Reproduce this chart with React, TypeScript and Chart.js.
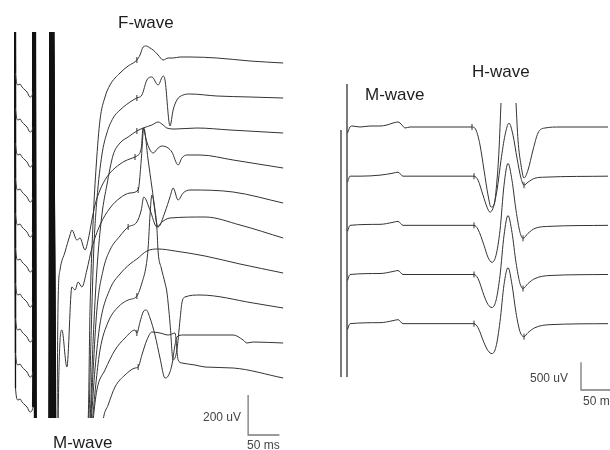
import React, { useEffect, useRef } from "react";
import { Chart, registerables } from "chart.js";

Chart.register(...registerables);

type P = [number, number];

// ---------- Left panel: F-wave recordings (time ms from stimulus, amplitude µV relative to each trace) ----------
const fLead: P[] = [
  [0, 2500], [0.8, -50], [4.8, -110], [8, -105], [11.2, -120], [16, -135], [19.2, -145],
  [24, -170], [28.8, -145], [31.2, 2500], [32.8, -2500], [55.7, -2500], [57.6, 2500],
];
const fTrace1: P[] = [[61.6, -2500], [117, -1785], [120, -1240], [125, -790], [130, -510], [136, -285], [144, -170], [152, -110], [168, -50], [181, -15], [189, 0], [195, 15], [200, 40], [205, 80], [210, 85], [216, 75], [221, 65], [229, 40], [237, 15], [245, 25], [253, 25], [264, 30], [280, 30], [323, 25], [376, 10], [429, 0]];
const fTrace2: P[] = [[62.4, -2500], [118, -1610], [122, -1160], [126, -760], [131, -510], [139, -285], [147, -175], [157, -100], [168, -60], [189, -10], [195, 0], [203, 15], [211, 90], [219, 105], [229, 65], [237, 110], [240, 90], [248, -140], [253, -60], [259, -10], [269, 15], [280, 20], [323, 10], [376, 5], [429, 0]];
const fTrace3: P[] = [[63.2, -2500], [120, -1435], [125, -1035], [131, -685], [139, -410], [147, -260], [157, -110], [168, -50], [181, -20], [195, 10], [205, 25], [219, 40], [229, 55], [237, 40], [243, 25], [256, 20], [291, 25], [344, 15], [429, 0]];
const fTrace4: P[] = [[64, -2500], [69, -660], [72, -510], [80, -420], [88, -335], [91, -310], [99, -360], [104, -350], [112, -410], [117, -360], [123, -260], [128, -185], [136, -110], [147, -45], [160, 0], [176, 35], [192, 55], [195, 60], [202, 100], [205, 200], [210, 140], [216, 90], [221, 75], [229, 100], [235, 110], [245, 100], [251, 80], [261, 15], [267, 50], [275, 65], [296, 65], [349, 40], [429, 0]];
const fTrace5: P[] = [[64.8, -2500], [70, -885], [75, -635], [83, -820], [91, -420], [96, -435], [101, -395], [107, -420], [115, -335], [123, -225], [136, -110], [152, -25], [168, 25], [184, 50], [197, 65], [202, 215], [206, 375], [213, 215], [219, 80], [229, -120], [240, -45], [248, 30], [253, 75], [261, 15], [269, 50], [280, 65], [349, 55], [429, 0]];
const fTrace6: P[] = [[65.6, -2500], [121, -910], [125, -660], [131, -360], [141, -160], [152, -60], [168, 10], [181, 55], [195, 80], [202, 140], [206, 205], [216, 140], [227, 55], [235, 80], [248, 100], [304, 105], [360, 65], [429, 0]];
const fTrace7: P[] = [[66.4, -2500], [122, -730], [128, -480], [136, -255], [152, -80], [168, -5], [184, 45], [195, 70], [211, 110], [229, 120], [256, 110], [304, 85], [360, 45], [429, 0]];
const fTrace8: P[] = [[67.2, -2500], [124, -560], [130, -360], [136, -210], [149, -70], [165, 5], [181, 40], [195, 60], [203, 125], [210, 215], [213, 300], [216, 465], [219, 565], [224, 490], [227, 400], [229, 280], [234, 200], [240, 125], [243, 80], [248, -75], [253, -260], [259, -210], [264, -60], [267, 25], [272, 55], [296, 65], [381, 25], [429, 0]];
const fTrace9: P[] = [[68, -2500], [125, -385], [131, -235], [144, -135], [160, -35], [176, 25], [192, 65], [195, 50], [200, 105], [205, 155], [210, 165], [216, 125], [224, 40], [232, -75], [240, -175], [245, -165], [251, -110], [256, -10], [259, 30], [269, 40], [296, 40], [349, 40], [365, 15], [371, 0], [381, 5], [429, 0]];
const fTrace10: P[] = [[68.8, -2500], [141, -210], [149, -135], [160, -45], [176, 15], [192, 50], [197, 55], [203, 115], [211, 190], [219, 230], [232, 225], [245, 215], [256, 225], [261, 90], [267, 75], [288, 65], [304, 55], [349, 50], [429, 0]];
const fTraces: P[][] = [fTrace1, fTrace2, fTrace3, fTrace4, fTrace5, fTrace6, fTrace7, fTrace8, fTrace9, fTrace10];
const fMarks: number[][] = [[195], [195], [195], [192], [197], [181], [], [195], [195], [197]];
const fSpacing = 175; // µV between stacked sweeps

// ---------- Right panel: H-wave recordings ----------
const hTrace1: P[] = [[0.8, -108], [4.8, 0], [8, 18], [20.8, 0], [36.8, 18], [52.8, 18], [64, 36], [73.6, 72], [81.6, 90], [88, 36], [92.8, -18], [100.8, 0], [148.8, 0], [200, 0], [206.4, -54], [212.8, -324], [219.2, -774], [225.6, -1224], [230.4, -1440], [235.2, -1404], [240, -954], [243.2, -414], [246.4, 432], [249.6, 1206], [258.4, 1926], [267.2, 1206], [270.4, 432], [273.6, -234], [278.4, -684], [283.2, -918], [289.6, -774], [297.6, -414], [305.6, -108], [316.8, -18], [340.8, 0], [417.6, 0]];
const hTrace2: P[] = [[0.8, -108], [4.8, 0], [20.8, 0], [52.8, 18], [73.6, 54], [81.6, 72], [89.6, 0], [100.8, 0], [148.8, 0], [203.2, 0], [209.6, -72], [217.6, -342], [224, -558], [228.8, -648], [233.6, -576], [240, -252], [246.4, 288], [252.8, 738], [259.2, 954], [265.6, 738], [272, 324], [278.4, -36], [283.2, -162], [289.6, -108], [300.8, -36], [316.8, -18], [417.6, 0]];
const hTrace3: P[] = [[0.8, -108], [4.8, 0], [52.8, 18], [73.6, 54], [81.6, 72], [89.6, 0], [203.2, 0], [209.6, -72], [219.2, -360], [225.6, -576], [232, -666], [238.4, -540], [244.8, -90], [251.2, 720], [257.6, 1116], [264, 810], [270.4, 270], [276.8, -126], [281.6, -234], [289.6, -144], [300.8, -54], [324.8, -18], [417.6, 0]];
const hTrace4: P[] = [[0.8, -108], [4.8, 0], [52.8, 18], [73.6, 54], [81.6, 72], [89.6, 0], [203.2, 0], [209.6, -72], [219.2, -378], [225.6, -540], [232, -594], [238.4, -468], [244.8, -18], [251.2, 702], [257.6, 1062], [264, 756], [270.4, 216], [276.8, -162], [281.6, -252], [289.6, -162], [300.8, -72], [324.8, -18], [417.6, 0]];
const hTrace5: P[] = [[0.8, -108], [4.8, 0], [52.8, 18], [73.6, 54], [81.6, 72], [89.6, 0], [203.2, 0], [209.6, -72], [219.2, -342], [225.6, -486], [232, -540], [238.4, -414], [244.8, 36], [251.2, 702], [257.6, 1008], [264, 702], [270.4, 198], [276.8, -144], [283.2, -234], [289.6, -162], [300.8, -72], [324.8, -18], [417.6, 0]];
const hTraces: P[][] = [hTrace1, hTrace2, hTrace3, hTrace4, hTrace5];
const hMarks: number[][] = [[200], [203.2, 283.2], [203.2, 281.6], [203.2, 281.6], [203.2, 283.2]];
const hSpacing = 885;
const hArtifactTimes = [0, -9.6];
const hArtifactTops = [774, -54];
const hArtifactBottom = -4500;

// scale bars
const fBar = { ms: 50, uv: 200 };
const hBar = { ms: 50, uv: 500 };

const TRACE = "#333333";

function isSaturated(ctx: any, area: { top: number; bottom: number }) {
  const dx = Math.abs(ctx.p1.x - ctx.p0.x);
  const dy = Math.abs(ctx.p1.y - ctx.p0.y);
  const outside = (y: number) => y < area.top - 1 || y > area.bottom + 1;
  return dy > 8 * dx && ctx.p0.x < 54 && (outside(ctx.p0.y) || outside(ctx.p1.y));
}

function trace(points: P[], offset: number, marks: number[], color: string, thickLead: boolean) {
  const area = { top: 32, bottom: 418 };
  return {
    data: points.map(([x, y]) => ({ x, y: y + offset })),
    borderColor: color,
    borderWidth: 1,
    pointRadius: (ctx: any) => (ctx.raw && marks.includes(ctx.raw.x) ? 3 : 0),
    pointStyle: "line",
    rotation: 90,
    pointBorderColor: color,
    pointBorderWidth: 1,
    cubicInterpolationMode: "monotone",
    fill: false,
    segment: thickLead
      ? {
          borderWidth: (ctx: any) => {
            if (!isSaturated(ctx, area)) return undefined;
            if (ctx.p0.x < 25) return 1.3;
            if (ctx.p0.x < 45) return 2.2;
            return 2.8;
          },
          borderColor: (ctx: any) => (isSaturated(ctx, area) ? "#111" : undefined),
        }
      : undefined,
  };
}

function bar(x0: number, y0: number, ms: number, uv: number) {
  return {
    data: [
      { x: x0, y: y0 + uv },
      { x: x0, y: y0 },
      { x: x0 + ms, y: y0 },
    ],
    borderColor: "#7a7a7a",
    borderWidth: 1.3,
    pointRadius: 0,
    tension: 0,
    clip: false as any,
  };
}

const labels = [
  { text: "F-wave", left: 118, top: 13.5, size: 17 },
  { text: "M-wave", left: 53, top: 434, size: 17 },
  { text: "200 uV", left: 203, top: 410.5, size: 12 },
  { text: "50 ms", left: 247, top: 438.5, size: 12 },
  { text: "H-wave", left: 472, top: 62.5, size: 17 },
  { text: "M-wave", left: 365, top: 85.5, size: 17 },
  { text: "500 uV", left: 530, top: 371.5, size: 12 },
  { text: "50 ms", left: 583, top: 394.5, size: 12 },
];

export default function App() {
  const leftRef = useRef<HTMLCanvasElement>(null);
  const rightRef = useRef<HTMLCanvasElement>(null);

  useEffect(() => {
    const common = {
      animation: false as const,
      responsive: false,
      events: [] as any,
      plugins: { legend: { display: false }, tooltip: { enabled: false }, title: { display: false } },
      elements: { point: { radius: 0 } },
    };

    const leftSets: any[] = fTraces.map((t, i) =>
      trace([...fLead, ...t], -i * fSpacing, fMarks[i], TRACE, true)
    );
    leftSets.push(bar(373, -1860, fBar.ms, fBar.uv));

    const left = new Chart(leftRef.current!, {
      type: "line",
      data: { datasets: leftSets },
      options: {
        ...common,
        layout: { padding: { top: 32, bottom: 32, left: 0, right: 0 } },
        scales: {
          x: { type: "linear", display: false, min: -24, max: 456 },
          y: { type: "linear", display: false, min: -1775, max: 155 },
        },
      } as any,
    });

    const rightSets: any[] = hTraces.map((t, j) => trace(t, -j * hSpacing, hMarks[j], TRACE, false));
    hArtifactTimes.forEach((t, k) => {
      rightSets.push({
        data: [
          { x: t, y: hArtifactTops[k] },
          { x: t, y: hArtifactBottom },
        ],
        borderColor: "#222",
        borderWidth: 1.2,
        pointRadius: 0,
        clip: false,
      });
    });
    rightSets.push(bar(374.4, -4734, hBar.ms, hBar.uv));

    const right = new Chart(rightRef.current!, {
      type: "line",
      data: { datasets: rightSets },
      options: {
        ...common,
        layout: { padding: { top: 103, bottom: 50, left: 0, right: 0 } },
        scales: {
          x: { type: "linear", display: false, min: -75.2, max: 420.8 },
          y: { type: "linear", display: false, min: -4914, max: 432 },
        },
      } as any,
    });

    return () => {
      left.destroy();
      right.destroy();
    };
  }, []);

  return (
    <div
      style={{
        position: "absolute",
        left: 0,
        top: 0,
        width: 610,
        height: 450,
        overflow: "hidden",
        background: "#ffffff",
        fontFamily: '"Liberation Sans", Arial, sans-serif',
        color: "#1e1e1e",
      }}
    >
      <canvas ref={leftRef} width={300} height={450} style={{ position: "absolute", left: 0, top: 0 }} />
      <canvas ref={rightRef} width={310} height={450} style={{ position: "absolute", left: 300, top: 0 }} />
      {labels.map((l, i) => (
        <div
          key={i}
          style={{
            position: "absolute",
            left: l.left,
            top: l.top,
            fontSize: l.size,
            lineHeight: `${l.size}px`,
            whiteSpace: "nowrap",
            color: l.size < 14 ? "#444" : "#1e1e1e",
          }}
        >
          {l.text}
        </div>
      ))}
    </div>
  );
}
